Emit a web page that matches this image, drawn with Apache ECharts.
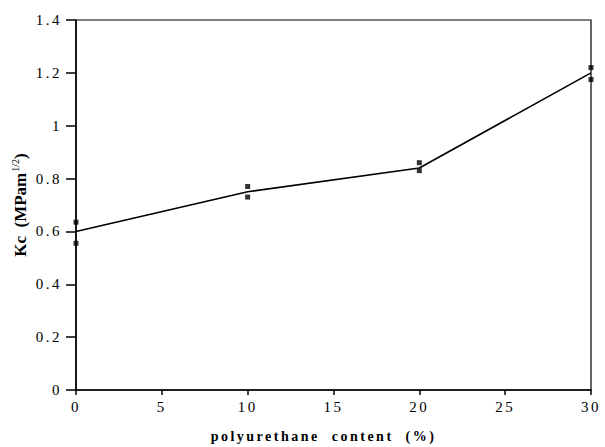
<!DOCTYPE html>
<html>
<head>
    <meta charset="utf-8">
    <title>Kc vs polyurethane content</title>
    <script src="https://cdn.jsdelivr.net/npm/echarts@6/dist/echarts.min.js"></script>
    <style>
        body { margin: 0; background: #fff; }
        #main text { letter-spacing: 2.5px; }
        /* y axis title is set tight, only the tick labels and x title are spaced */
        #main text[style*="17px"], #main text[style*="10px"] { letter-spacing: 0; }
    </style>
</head>
<body>
    <div id="main" style="width: 605px;height:447px;"></div>
    <script type="text/javascript">
        // fitted curve
        var lineX = [0, 10, 20, 30];
        var lineY = [0.6, 0.75, 0.84, 1.2];
        // measured points (two per content level)
        var pointX = [0, 0, 10, 10, 20, 20, 30, 30];
        var pointY = [0.635, 0.555, 0.77, 0.73, 0.86, 0.83, 1.22, 1.175];

        var xTicks = [0, 5, 10, 15, 20, 25, 30];
        var yTicks = [0, 0.2, 0.4, 0.6, 0.8, 1, 1.2, 1.4];

        var font = '"Liberation Serif", "Times New Roman", serif';

        var myChart = echarts.init(document.getElementById('main'), null, { renderer: 'svg' });

        var option = {
            backgroundColor: '#fff',
            animation: false,
            grid: {
                left: 76, right: 14, top: 20, bottom: 57,
                outerBoundsMode: 'none',
                show: true, borderColor: '#000', borderWidth: 1.2
            },
            xAxis: {
                type: 'value',
                min: xTicks[0],
                max: xTicks[xTicks.length - 1],
                interval: 5,
                name: 'polyurethane\u00a0\u00a0content\u00a0\u00a0(%)',
                nameLocation: 'middle',
                nameGap: 39,
                nameTextStyle: { fontFamily: font, fontSize: 14, fontWeight: 'bold', color: '#000', padding: [0, 20, 0, 0] },
                axisLine: { lineStyle: { color: '#000', width: 1.5 } },
                axisTick: { show: true, inside: false, length: 5, lineStyle: { color: '#000', width: 1.5 } },
                axisLabel: { fontFamily: font, fontSize: 15, color: '#000', margin: 9 },
                splitLine: { show: false }
            },
            yAxis: {
                type: 'value',
                min: yTicks[0],
                max: yTicks[yTicks.length - 1],
                interval: 0.2,
                name: '{a|Kc\u00a0\u00a0(MPam}{s|1/2}{a|)}',
                nameLocation: 'middle',
                nameGap: 45,
                nameRotate: 90,
                nameTextStyle: {
                    color: '#000',
                    rich: {
                        a: { fontFamily: font, fontSize: 17, fontWeight: 'bold', color: '#000' },
                        s: { fontFamily: font, fontSize: 10, color: '#000', verticalAlign: 'bottom', padding: [0, 0, 11, 1] }
                    }
                },
                axisLine: { lineStyle: { color: '#000', width: 1.5 } },
                axisTick: { show: true, inside: false, length: 10, lineStyle: { color: '#000', width: 1.5 } },
                axisLabel: {
                    fontFamily: font, fontSize: 15, color: '#000', margin: 14,
                    formatter: function (v) { return String(Math.round(v * 10) / 10); }
                },
                splitLine: { show: false }
            },
            series: [
                {
                    type: 'line',
                    data: lineX.map(function (x, i) { return [x, lineY[i]]; }),
                    showSymbol: false,
                    lineStyle: { color: '#000', width: 1.6 },
                    z: 2
                },
                {
                    type: 'scatter',
                    data: pointX.map(function (x, i) { return [x, pointY[i]]; }),
                    symbol: 'rect',
                    symbolSize: 5,
                    itemStyle: { color: '#000' },
                    z: 3
                }
            ]
        };
        myChart.setOption(option);
    </script>
</body>
</html>
